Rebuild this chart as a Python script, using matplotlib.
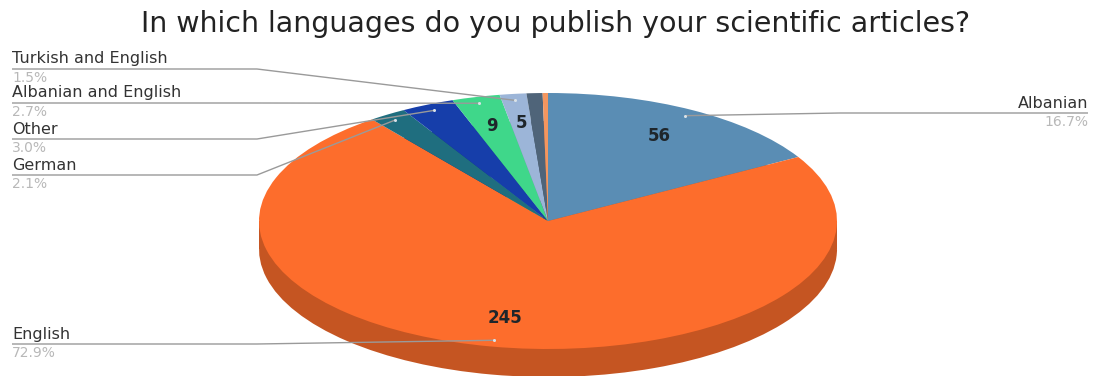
import numpy as np
import matplotlib.pyplot as plt

# survey answers, clockwise from 12 o'clock
categories = ['Albanian', 'English', 'German', 'Other', 'Albanian and English',
              'Turkish and English', '', '']
counts = [56, 245, 7, 10, 9, 5, 3, 1]
colors = ['#5a8db4', '#fd6d2c', '#1f6e7f', '#163eaa', '#3fd78a', '#9cb5d8',
          '#4f6479', '#f4965f']
show_value = ['Albanian', 'English', 'Albanian and English', 'Turkish and English']

title = 'In which languages do you publish your scientific articles?'

W, H = 1097, 376
cx, cy, rx, ry, depth = 548, 221, 289, 128, 28

fig = plt.figure(figsize=(W / 100, H / 100), dpi=100)
ax = fig.add_axes([0, 0, 1, 1])


def pix(x, y):
    # pixel position -> pie units (radius 1 is rx wide, ry tall)
    return (x - cx) / rx, (cy - y) / ry


def darker(c, f=0.78):
    r, g, b = [int(c[i:i + 2], 16) / 255 for i in (1, 3, 5)]
    return (r * f, g * f, b * f)


side_colors = [darker(c) for c in colors]
dz = depth / ry

# side of the disc: lower pie + band between the two faces
ax.pie(counts, colors=side_colors, startangle=90, counterclock=False,
       center=(0, -dz), wedgeprops=dict(linewidth=0))
ax.fill_between([-1, 1], -dz, 0, color=side_colors[1], linewidth=0)
# top face
ax.pie(counts, colors=colors, startangle=90, counterclock=False,
       wedgeprops=dict(linewidth=0))

ax.set_aspect('auto')
ax.set_xlim(-cx / rx, (W - cx) / rx)
ax.set_ylim(-(H - cy) / ry, cy / ry)
ax.axis('off')

total = sum(counts)
edges = np.cumsum([0] + counts) / total * 360
mids = np.radians((edges[:-1] + edges[1:]) / 2)

# numbers inside the slices
for name, n, a in zip(categories, counts, mids):
    if name in show_value:
        ax.text(0.77 * np.sin(a), 0.77 * np.cos(a), str(n), ha='center',
                va='center', fontsize=12, fontweight='bold', color='#1f262b')

# outside labels: line height in pixels, left or right side
label_pos = {
    'Turkish and English': (69, 'left'),
    'Albanian and English': (103, 'left'),
    'Other': (139, 'left'),
    'German': (175, 'left'),
    'English': (344, 'left'),
    'Albanian': (113, 'right'),
}

for name, n, a in zip(categories, counts, mids):
    if name not in label_pos:
        continue
    ly, side = label_pos[name]
    tip = (0.95 * np.sin(a), 0.95 * np.cos(a))
    if side == 'left':
        x0, x1, ha = 12, 257, 'left'
    else:
        x0, x1, ha = 1088, 840, 'right'
    p0, p1 = pix(x0, ly), pix(x1, ly)
    ax.plot([p0[0], p1[0], tip[0]], [p0[1], p1[1], tip[1]], color='#9a9a9a',
            lw=1, solid_capstyle='butt')
    ax.plot(*tip, 'o', ms=2.2, color='#d9e2e8', mec='none')
    tx, ty = pix(x0, ly - 10)
    ax.text(tx, ty, name, ha=ha, va='center', fontsize=11.5, color='#333333')
    tx, ty = pix(x0, ly + 9)
    ax.text(tx, ty, f'{n / total * 100:.1f}%', ha=ha, va='center',
            fontsize=10, color='#b8b8b8')

tx, ty = pix(556, 24)
ax.text(tx, ty, title, ha='center', va='center', fontsize=20.5, color='#222222')

fig.savefig('out.png', dpi=100)
